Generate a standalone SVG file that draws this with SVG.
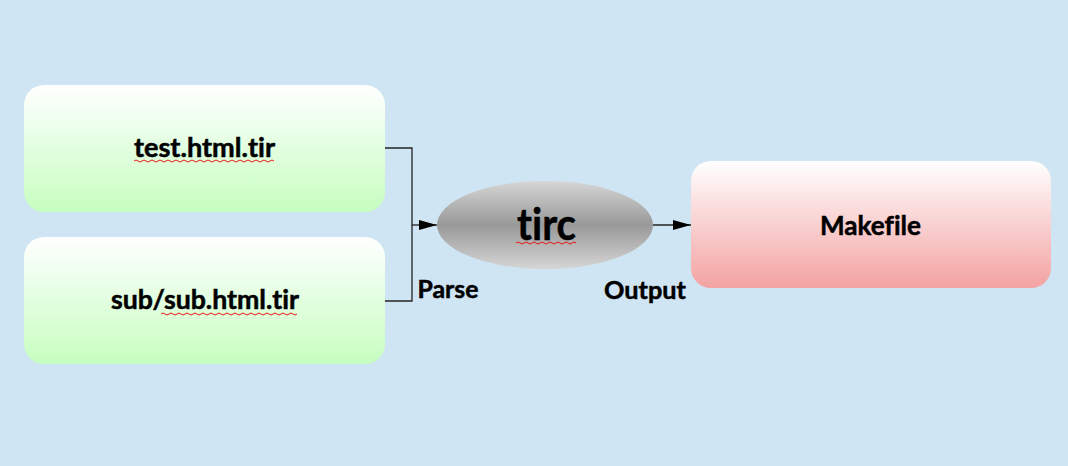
<svg xmlns="http://www.w3.org/2000/svg" width="1068" height="466" viewBox="0 0 1068 466">
<style>
.lbl{font-family:Lato,"Open Sans","Liberation Sans",sans-serif;font-weight:bold;fill:#000;stroke:#000;stroke-width:0.5;text-anchor:middle;font-variant-ligatures:none;font-feature-settings:"liga" 0}
.conn{stroke:#222;stroke-width:1.3;fill:none}
.sq{stroke:#e00;stroke-width:0.9;fill:none}
</style>
<defs>
<linearGradient id="g" x1="0" y1="0" x2="0" y2="1"><stop offset="0" stop-color="#ffffff"/><stop offset="1" stop-color="#c6fec0"/></linearGradient>
<linearGradient id="r" x1="0" y1="0" x2="0" y2="1"><stop offset="0" stop-color="#ffffff"/><stop offset="1" stop-color="#f3a2a2"/></linearGradient>
<linearGradient id="e" x1="0" y1="0" x2="0" y2="1"><stop offset="0" stop-color="#d6d6d6"/><stop offset="0.5" stop-color="#999999"/><stop offset="1" stop-color="#d6d6d6"/></linearGradient>
<marker id="arr" markerWidth="18" markerHeight="10" refX="18" refY="5" orient="auto" markerUnits="userSpaceOnUse"><path d="M0,0 L18,5 L0,10 Z" fill="#000"/></marker>
</defs>
<rect width="1068" height="466" fill="#cfe5f3"/>
<g id="connectors">
<polyline class="conn" points="385,148 412,148 412,301 385,301"/>
<line class="conn" x1="412" y1="225" x2="437" y2="225" marker-end="url(#arr)"/>
<line class="conn" x1="653" y1="225" x2="691" y2="225" marker-end="url(#arr)"/>
<text class="lbl" x="448" y="298" font-size="25" textLength="61" lengthAdjust="spacingAndGlyphs">Parse</text>
<text class="lbl" x="645" y="299" font-size="25" textLength="82" lengthAdjust="spacingAndGlyphs">Output</text>
</g>
<g id="test">
<rect x="24" y="85" width="361" height="127" rx="20" fill="url(#g)"/>
<text class="lbl" x="204.5" y="157" font-size="26" textLength="141" lengthAdjust="spacingAndGlyphs">test.html.tir</text>
<path class="sq" d="M134,161 q2,-2 4,0 t4,0 t4,0 t4,0 t4,0 t4,0 t4,0 t4,0 t4,0 t4,0 t4,0 t4,0 t4,0 t4,0 t4,0 t4,0 t4,0 t4,0 t4,0 t4,0 t4,0 t4,0 t4,0 t4,0 t4,0 t4,0 t4,0 t4,0 t4,0 t4,0 t4,0 t4,0 t4,0 t4,0 t4,0"/>
</g>
<g id="sub">
<rect x="24" y="237" width="361" height="127" rx="20" fill="url(#g)"/>
<text class="lbl" x="205" y="309" font-size="26" textLength="188" lengthAdjust="spacingAndGlyphs">sub/sub.html.tir</text>
<path class="sq" d="M161,314 q2,-2 4,0 t4,0 t4,0 t4,0 t4,0 t4,0 t4,0 t4,0 t4,0 t4,0 t4,0 t4,0 t4,0 t4,0 t4,0 t4,0 t4,0 t4,0 t4,0 t4,0 t4,0 t4,0 t4,0 t4,0 t4,0 t4,0 t4,0 t4,0 t4,0 t4,0 t4,0 t4,0 t4,0 t4,0"/>
</g>
<g id="tirc">
<ellipse cx="545" cy="225" rx="108" ry="44" fill="url(#e)"/>
<text class="lbl" x="546.5" y="240" font-size="44" textLength="59" lengthAdjust="spacingAndGlyphs">tirc</text>
<path class="sq" d="M516,243 q2,-2 4,0 t4,0 t4,0 t4,0 t4,0 t4,0 t4,0 t4,0 t4,0 t4,0 t4,0 t4,0 t4,0 t4,0 t4,0"/>
</g>
<g id="makefile">
<rect x="691" y="161" width="360" height="127" rx="20" fill="url(#r)"/>
<text class="lbl" x="870.5" y="235" font-size="27" textLength="101" lengthAdjust="spacingAndGlyphs">Makefile</text>
</g>
</svg>
